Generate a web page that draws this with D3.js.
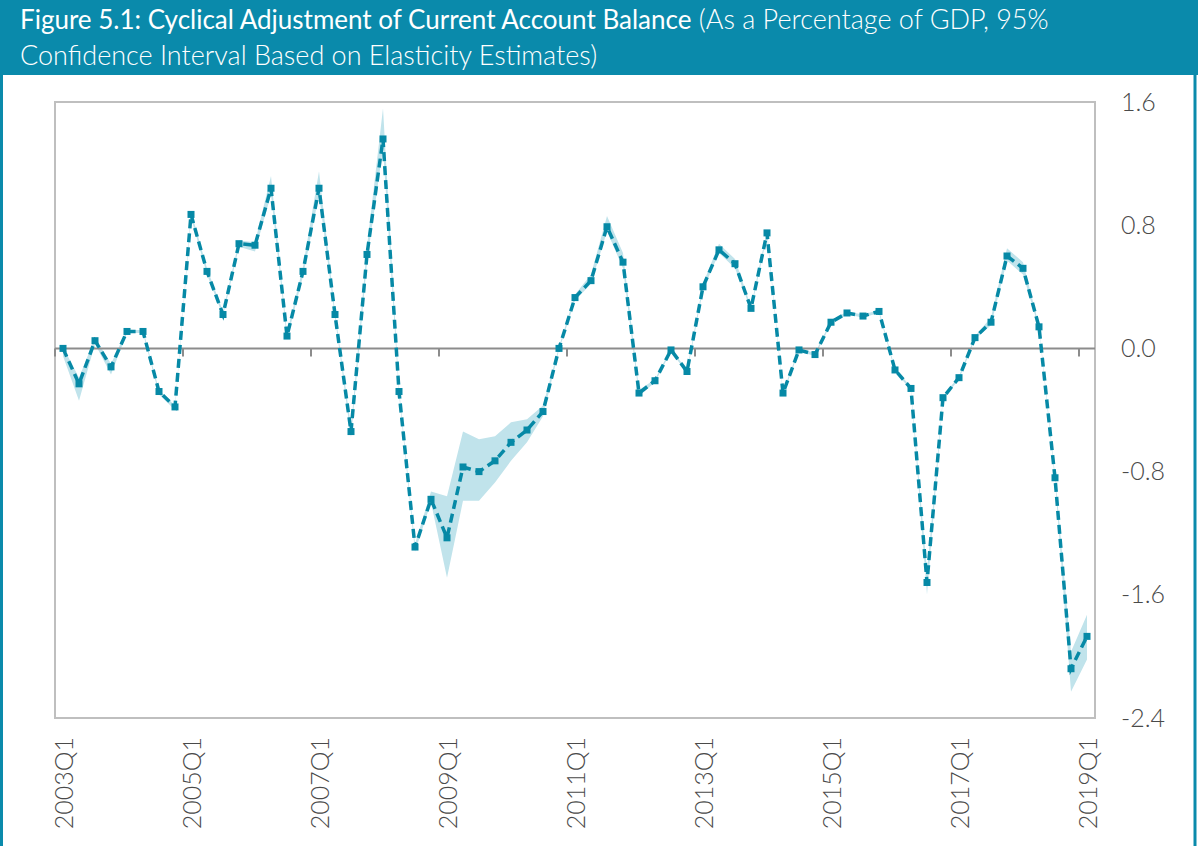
<!DOCTYPE html>
<html>
<head>
<meta charset="utf-8">
<script src="https://cdn.jsdelivr.net/npm/d3@7"></script>
<style>
  html, body { margin: 0; padding: 0; background: #fff; }
  svg { display: block; }
</style>
</head>
<body>
<svg id="chart" width="1198" height="846"></svg>
<script>
// quarters 2003Q1 .. 2019Q1
const quarters = [];
for (let yr = 2003; yr <= 2019; yr++) {
  for (let q = 1; q <= 4; q++) {
    if (yr === 2019 && q > 1) break;
    quarters.push(yr + 'Q' + q);
  }
}

// cyclical adjustment, % of GDP
const adjustment = [
   0.00, -0.23,  0.05, -0.12,  0.11,  0.11, -0.28, -0.38,
   0.87,  0.50,  0.22,  0.68,  0.67,  1.04,  0.08,  0.50,
   1.04,  0.22, -0.54,  0.61,  1.36, -0.28, -1.29, -0.98,
  -1.23, -0.77, -0.80, -0.73, -0.61, -0.53, -0.41,  0.00,
   0.33,  0.44,  0.79,  0.56, -0.29, -0.21, -0.01, -0.15,
   0.40,  0.64,  0.55,  0.26,  0.75, -0.29, -0.01, -0.04,
   0.17,  0.23,  0.21,  0.24, -0.14, -0.26, -1.52, -0.32,
  -0.19,  0.07,  0.17,  0.60,  0.52,  0.14, -0.84, -2.08,
  -1.87
];

// 95% confidence interval bounds
const lower = [
  -0.05, -0.34,  0.03, -0.17,  0.10,  0.10, -0.30, -0.40,
   0.85,  0.48,  0.21,  0.66,  0.63,  1.00,  0.06,  0.47,
   1.00,  0.20, -0.58,  0.56,  1.30, -0.30, -1.32, -1.00,
  -1.49, -0.99, -0.99, -0.87, -0.73, -0.61, -0.44, -0.01,
   0.31,  0.42,  0.76,  0.52, -0.31, -0.22, -0.02, -0.16,
   0.38,  0.62,  0.52,  0.25,  0.73, -0.30, -0.02, -0.05,
   0.16,  0.22,  0.20,  0.23, -0.15, -0.27, -1.60, -0.33,
  -0.20,  0.06,  0.15,  0.57,  0.48,  0.13, -0.86, -2.23,
  -2.02
];
const upper = [
   0.01, -0.19,  0.07, -0.10,  0.12,  0.12, -0.27, -0.37,
   0.89,  0.52,  0.24,  0.70,  0.69,  1.12,  0.10,  0.53,
   1.15,  0.24, -0.51,  0.66,  1.56, -0.26, -1.27, -0.93,
  -0.96, -0.54, -0.59, -0.57, -0.48, -0.46, -0.37,  0.01,
   0.35,  0.48,  0.86,  0.62, -0.27, -0.20,  0.00, -0.14,
   0.42,  0.68,  0.58,  0.27,  0.77, -0.28,  0.00, -0.03,
   0.18,  0.24,  0.22,  0.25, -0.13, -0.25, -1.45, -0.31,
  -0.18,  0.08,  0.20,  0.65,  0.56,  0.15, -0.82, -1.97,
  -1.73
];

const yTicks = [1.6, 0.8, 0.0, -0.8, -1.6, -2.4];
const labelEvery = 8;

const TEAL = '#0a8aab';
const LINE = '#0689a6';
const BAND = '#c0e3eb';
const GREY_TXT = '#4a4a4a';
const FONT = 'Lato, "Open Sans", sans-serif';

const W = 1198, H = 846;
const plot = { left: 55, right: 1095, top: 102, bottom: 718 };

const svg = d3.select('#chart');

// header
svg.append('rect')
  .attr('x', 0).attr('y', 0)
  .attr('width', W).attr('height', 75)
  .attr('fill', TEAL);

const title = svg.append('text')
  .attr('x', 20).attr('y', 29)
  .attr('fill', '#fff')
  .style('font-family', FONT);
title.append('tspan')
  .style('font-size', '26px')
  .style('font-weight', 400)
  .text('Figure 5.1: Cyclical Adjustment of Current Account Balance');
title.append('tspan')
  .style('font-size', '27px')
  .style('font-weight', 300)
  .text(' (As a Percentage of GDP, 95%');

svg.append('text')
  .attr('x', 20).attr('y', 65)
  .attr('fill', '#fff')
  .style('font-family', FONT)
  .style('font-size', '27px')
  .style('font-weight', 300)
  .text('Confidence Interval Based on Elasticity Estimates)');

// outer frame
svg.append('rect')
  .attr('x', 1.5).attr('y', 0)
  .attr('width', W - 4.5).attr('height', H + 10)
  .attr('fill', 'none')
  .attr('stroke', TEAL)
  .attr('stroke-width', 3);

// scales
const x = d3.scalePoint()
  .domain(quarters)
  .range([plot.left, plot.right])
  .padding(0.5);
const step = x.step();

const y = d3.scaleLinear()
  .domain([-2.4, 1.6])
  .range([plot.bottom, plot.top]);

// plot frame
svg.append('rect')
  .attr('x', plot.left).attr('y', plot.top)
  .attr('width', plot.right - plot.left)
  .attr('height', plot.bottom - plot.top)
  .attr('fill', 'none')
  .attr('stroke', '#bfbfbf')
  .attr('stroke-width', 2);

// confidence band
const rows = quarters.map((q, i) => ({ q, v: adjustment[i], lo: lower[i], hi: upper[i] }));

svg.append('path')
  .datum(rows)
  .attr('fill', BAND)
  .attr('d', d3.area()
    .x(d => x(d.q))
    .y0(d => y(d.lo))
    .y1(d => y(d.hi)));

// zero line with category-boundary ticks
const zeroG = svg.append('g');
zeroG.append('line')
  .attr('x1', plot.left).attr('x2', plot.right)
  .attr('y1', y(0)).attr('y2', y(0))
  .attr('stroke', '#8c8c8c')
  .attr('stroke-width', 2);

const tickQs = quarters.filter((q, i) => i % labelEvery === 0);
zeroG.selectAll('line.tick')
  .data(tickQs)
  .join('line')
    .attr('class', 'tick')
    .attr('x1', d => x(d) - step / 2)
    .attr('x2', d => x(d) - step / 2)
    .attr('y1', y(0))
    .attr('y2', y(0) + 8)
    .attr('stroke', '#8c8c8c')
    .attr('stroke-width', 2);

// dashed series
svg.append('path')
  .datum(rows)
  .attr('fill', 'none')
  .attr('stroke', LINE)
  .attr('stroke-width', 3.5)
  .attr('stroke-dasharray', '9,5')
  .attr('d', d3.line()
    .x(d => x(d.q))
    .y(d => y(d.v)));

svg.append('g')
  .selectAll('rect')
  .data(rows)
  .join('rect')
    .attr('x', d => x(d.q) - 3.5)
    .attr('y', d => y(d.v) - 3.5)
    .attr('width', 7)
    .attr('height', 7)
    .attr('fill', LINE);

// y axis on the right
const yAxis = svg.append('g')
  .attr('transform', `translate(${plot.right + 26},0)`)
  .call(d3.axisRight(y)
    .tickValues(yTicks)
    .tickSize(0)
    .tickPadding(0)
    .tickFormat(d => d.toFixed(1)));
yAxis.select('.domain').remove();
yAxis.selectAll('text')
  .attr('fill', GREY_TXT)
  .style('font-family', FONT)
  .style('font-size', '25px')
  .style('font-weight', 300);

// x labels, rotated
const xAxis = svg.append('g')
  .attr('transform', `translate(0,${plot.bottom + 19})`)
  .call(d3.axisBottom(x)
    .tickValues(tickQs)
    .tickSize(0)
    .tickPadding(0));
xAxis.select('.domain').remove();
xAxis.selectAll('text')
  .attr('fill', GREY_TXT)
  .attr('transform', 'rotate(-90)')
  .attr('text-anchor', 'end')
  .attr('x', 0)
  .attr('y', 0)
  .attr('dy', '0.36em')
  .style('font-family', FONT)
  .style('font-size', '25px')
  .style('font-weight', 300);
</script>
</body>
</html>
